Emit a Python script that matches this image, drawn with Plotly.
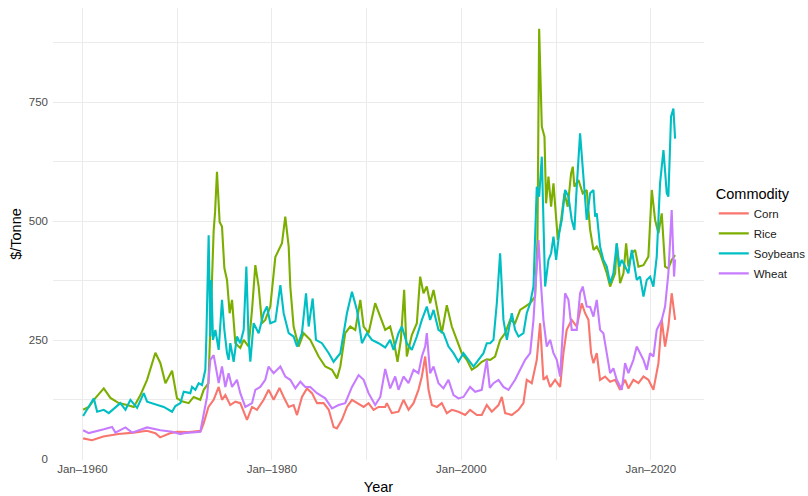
import pandas as pd
import plotly.graph_objects as go

# ---- data (decimal years, $/tonne) ----
corn_t = [1960.07,1961.0,1962.2,1963.8,1965.4,1966.8,1967.7,1968.2,1969.3,1970.0,1971.0,1972.0,1972.5,1972.8,1973.3,1973.85,1974.38,1974.73,1975.08,1975.6,1976.14,1976.66,1977.37,1977.9,1978.42,1979.13,1979.65,1980.18,1980.8,1981.24,1981.77,1982.29,1982.65,1983.17,1983.7,1984.23,1984.76,1985.46,1986.0,1986.51,1986.86,1987.39,1987.92,1988.45,1988.98,1989.68,1990.2,1990.73,1991.26,1991.96,1992.13,1992.66,1993.36,1993.89,1994.42,1994.95,1995.47,1995.83,1996.18,1996.53,1996.88,1997.41,1997.93,1998.46,1998.99,1999.69,2000.4,2000.92,2001.63,2002.15,2002.68,2003.21,2003.92,2004.27,2004.62,2005.32,2006.03,2006.55,2006.9,2007.43,2007.96,2008.31,2008.66,2009.01,2009.37,2009.89,2010.42,2010.77,2011.12,2011.65,2012.18,2012.71,2013.06,2013.41,2013.69,2013.94,2014.29,2014.64,2015.17,2015.7,2016.23,2016.75,2017.28,2017.63,2018.16,2018.69,2019.22,2019.74,2020.27,2020.8,2021.15,2021.5,2021.85,2022.2,2022.56]
corn_v = [44,40,48,53,56,60,55,46,55,58,57,58,60,76,110,125,152,125,135,114,121,118,83,110,104,125,146,125,150,131,110,114,93,131,149,139,118,118,104,68,65,83,110,125,118,110,118,104,110,110,118,97,100,125,104,118,146,174,216,146,114,110,118,97,104,100,93,104,93,93,114,100,114,131,97,93,104,118,167,160,209,286,167,174,152,167,152,223,272,293,279,328,307,293,223,202,223,167,174,163,167,146,167,149,167,160,174,167,146,202,293,237,279,349,293]

rice_t = [1960.07,1960.67,1961.2,1962.25,1962.95,1963.83,1964.71,1965.42,1966.12,1966.82,1967.7,1968.23,1968.76,1969.46,1969.98,1970.5,1971.21,1971.74,1972.44,1972.8,1973.3,1973.6,1973.85,1974.0,1974.2,1974.48,1974.73,1974.98,1975.26,1975.54,1975.79,1976.14,1976.66,1977.02,1977.54,1977.9,1978.25,1978.6,1978.95,1979.3,1979.83,1980.36,1980.71,1981.06,1981.41,1981.77,1981.94,1982.29,1982.82,1983.35,1984.05,1984.4,1984.93,1985.63,1986.34,1986.87,1987.22,1987.74,1988.27,1988.8,1989.33,1989.68,1990.2,1990.9,1991.44,1991.96,1992.48,1992.84,1993.26,1993.61,1993.96,1994.24,1994.77,1995.3,1995.65,1996.0,1996.35,1996.7,1997.06,1997.58,1997.93,1998.46,1998.99,1999.52,2000.04,2000.57,2001.1,2001.63,2002.15,2002.68,2003.04,2003.56,2004.09,2004.62,2005.15,2005.67,2006.2,2006.73,2007.26,2007.78,2008.03,2008.21,2008.49,2008.77,2008.94,2009.19,2009.47,2009.72,2009.89,2010.18,2010.53,2010.88,2011.23,2011.58,2011.76,2011.93,2012.36,2012.81,2013.23,2013.59,2013.94,2014.29,2014.64,2014.99,2015.35,2015.7,2016.23,2016.4,2016.75,2017.11,2017.39,2017.63,2017.99,2018.34,2018.69,2019.22,2019.74,2020.1,2020.45,2020.8,2021.15,2021.5,2021.85,2022.2,2022.56]
rice_v = [104,110,125,149,129,118,114,110,135,167,224,202,160,186,128,122,118,131,125,146,160,350,480,520,604,499,489,402,377,307,335,244,234,251,237,314,408,363,286,293,321,425,440,454,510,447,363,279,237,265,251,237,216,195,188,170,195,265,279,272,335,279,265,328,300,272,279,251,205,251,356,216,261,286,384,349,363,328,356,300,265,324,279,251,223,209,188,195,205,210,209,216,251,265,293,286,314,321,328,342,461,905,699,678,538,594,531,580,531,461,503,559,531,601,615,573,587,559,566,482,440,447,433,412,391,363,391,454,370,391,454,405,433,440,405,408,426,566,503,475,517,405,401,419,429]

soy_t = [1960.07,1961.2,1961.55,1962.25,1962.78,1963.48,1964.0,1964.54,1965.06,1965.77,1966.47,1966.82,1967.88,1968.58,1969.46,1969.81,1970.34,1970.69,1971.39,1971.57,1971.92,1972.27,1972.62,1972.97,1973.08,1973.32,1973.5,1973.6,1973.78,1974.03,1974.38,1974.73,1974.98,1975.26,1975.43,1975.61,1975.96,1976.31,1976.66,1977.02,1977.3,1977.54,1977.72,1978.07,1978.6,1979.13,1979.48,1979.83,1980.36,1980.71,1980.89,1981.24,1981.77,1982.29,1982.65,1983.17,1983.6,1983.88,1984.3,1984.65,1985.28,1986.0,1986.51,1987.22,1987.92,1988.45,1988.97,1989.5,1990.03,1990.56,1991.26,1991.96,1992.48,1992.84,1993.36,1993.72,1994.24,1994.77,1995.3,1995.83,1996.35,1996.7,1997.06,1997.58,1998.11,1998.64,1999.17,1999.69,2000.22,2000.75,2001.28,2001.8,2002.33,2002.68,2003.04,2003.39,2003.74,2004.09,2004.44,2004.8,2005.32,2005.67,2006.03,2006.55,2006.9,2007.26,2007.61,2007.96,2008.21,2008.49,2008.66,2008.84,2009.19,2009.47,2009.72,2010.0,2010.32,2010.6,2010.95,2011.3,2011.65,2011.93,2012.18,2012.53,2012.88,2013.23,2013.59,2013.94,2014.12,2014.29,2014.64,2014.99,2015.35,2015.7,2016.05,2016.4,2016.68,2016.93,2017.28,2017.63,2017.99,2018.51,2018.86,2019.22,2019.57,2019.92,2020.27,2020.62,2020.97,2021.33,2021.68,2021.85,2022.13,2022.38,2022.56]
soy_v = [91,128,100,104,97,110,118,104,125,108,139,121,114,110,100,112,118,142,139,152,146,160,156,188,258,471,258,377,251,272,230,335,272,223,209,244,205,258,244,272,405,251,205,286,265,307,321,286,290,349,366,307,265,258,237,265,349,279,338,251,244,223,205,223,307,352,314,244,265,251,244,235,251,230,265,279,244,230,258,293,321,293,314,272,265,237,223,205,223,209,195,209,223,244,244,251,328,433,293,251,307,272,258,265,307,328,363,573,552,636,468,363,419,433,468,419,475,503,566,552,503,482,573,685,594,503,559,566,510,517,447,419,405,370,391,454,405,419,405,391,440,377,384,342,377,384,363,426,580,650,559,552,720,737,674]

wheat_t = [1960.07,1960.67,1962.25,1963.13,1963.48,1964.54,1965.24,1966.82,1968.23,1969.46,1970.34,1970.69,1972.44,1972.8,1973.15,1973.5,1973.85,1974.38,1974.73,1975.08,1975.43,1975.79,1976.31,1976.66,1977.19,1977.9,1978.25,1978.77,1979.3,1979.65,1980.18,1980.89,1981.41,1981.94,1982.47,1983.0,1983.52,1984.05,1984.76,1985.63,1986.34,1987.04,1987.74,1988.45,1989.15,1989.68,1990.2,1990.9,1991.44,1991.96,1992.48,1993.01,1993.36,1993.89,1994.42,1994.95,1995.47,1995.83,1996.18,1996.35,1996.7,1997.06,1997.58,1998.11,1998.64,1999.17,1999.69,2000.22,2000.92,2001.45,2002.15,2002.68,2003.0,2003.39,2003.92,2004.44,2004.97,2005.67,2006.2,2006.73,2007.26,2007.61,2007.89,2008.14,2008.42,2008.66,2009.01,2009.37,2009.72,2010.07,2010.42,2010.67,2010.95,2011.3,2011.65,2012.18,2012.53,2012.81,2013.23,2013.59,2013.94,2014.29,2014.64,2014.99,2015.35,2015.7,2016.05,2016.4,2016.93,2017.28,2017.63,2018.16,2018.51,2018.86,2019.22,2019.57,2019.92,2020.27,2020.62,2021.15,2021.5,2021.85,2022.2,2022.45,2022.56]
wheat_v = [61,55,63,68,56,67,56,67,61,58,53,55,58,97,131,209,219,160,195,152,181,152,167,139,110,118,146,152,167,195,181,195,174,167,149,163,152,152,139,128,107,114,118,152,177,167,139,114,131,190,149,174,146,174,160,188,181,216,237,265,181,195,160,149,167,135,128,131,152,142,146,209,150,160,167,152,146,167,188,209,223,293,384,461,363,293,237,251,223,209,174,251,349,335,272,272,349,363,321,320,300,335,272,265,223,181,191,167,146,202,181,209,237,223,209,188,223,216,272,293,321,391,524,384,420]

commodities = ["Corn", "Rice", "Soybeans", "Wheat"]
colors = ["#F8766D", "#7CAE00", "#00BFC4", "#C77CFF"]
series_t = [corn_t, rice_t, soy_t, wheat_t]
series_v = [corn_v, rice_v, soy_v, wheat_v]

x_tick_years = [1960, 1980, 2000, 2020]
x_tick_labels = ["Jan\u20131960", "Jan\u20131980", "Jan\u20132000", "Jan\u20132020"]
x_minor_years = [1970, 1990, 2010]
y_ticks = [0, 250, 500, 750]
y_minor = [125, 375, 625, 875]


def to_date(y):
    yr = int(y)
    start = pd.Timestamp(yr, 1, 1)
    end = pd.Timestamp(yr + 1, 1, 1)
    return start + (end - start) * (y - yr)


fig = go.Figure()
for name, col, ts, vs in zip(commodities, colors, series_t, series_v):
    assert len(ts) == len(vs), name
    fig.add_trace(go.Scatter(
        x=[to_date(t) for t in ts], y=vs, mode="lines", name=name,
        legendgroup=name,
        line=dict(color=col, width=2.1)))

grid = "#EBEBEB"
fig.update_layout(
    width=808, height=496,
    margin=dict(l=53, r=104, t=8, b=36, autoexpand=False),
    paper_bgcolor="white", plot_bgcolor="white",
    font=dict(family="Liberation Sans, Arial, sans-serif", color="#000000"),
    showlegend=True,
    legend=dict(
        title=dict(text="Commodity", font=dict(size=14.5, color="#000000")),
        font=dict(size=11.5, color="#1A1A1A"),
        x=1.015, xanchor="left", y=0.5, yanchor="middle",
        bgcolor="rgba(0,0,0,0)", tracegroupgap=1, itemwidth=30,
    ),
)
fig.update_xaxes(
    range=[to_date(1956.89), to_date(2025.61)],
    tickmode="array",
    tickvals=[pd.Timestamp(y, 1, 1) for y in x_tick_years],
    ticktext=x_tick_labels,
    tickfont=dict(size=11.5, color="#4D4D4D"),
    showgrid=True, gridcolor=grid, gridwidth=1.1,
    minor=dict(tickvals=[pd.Timestamp(y, 1, 1) for y in x_minor_years],
               showgrid=True, gridcolor=grid, gridwidth=0.55),
    zeroline=False, showline=False, ticks="",
    title=dict(text="Year", font=dict(size=14.5, color="#000000"), standoff=8),
)
fig.update_yaxes(
    range=[-1.5, 948.5],
    tickmode="array", tickvals=y_ticks, ticktext=[str(v) for v in y_ticks],
    tickfont=dict(size=11.5, color="#4D4D4D"),
    ticklabelstandoff=4,
    showgrid=True, gridcolor=grid, gridwidth=1.1,
    minor=dict(tickvals=y_minor, showgrid=True, gridcolor=grid, gridwidth=0.55),
    zeroline=False, showline=False, ticks="",
    title=dict(text="$/Tonne", font=dict(size=14.5, color="#000000"), standoff=3),
)

fig.write_html("out.html", config={"displayModeBar": False},
               post_script="document.body.style.margin='0px';")
